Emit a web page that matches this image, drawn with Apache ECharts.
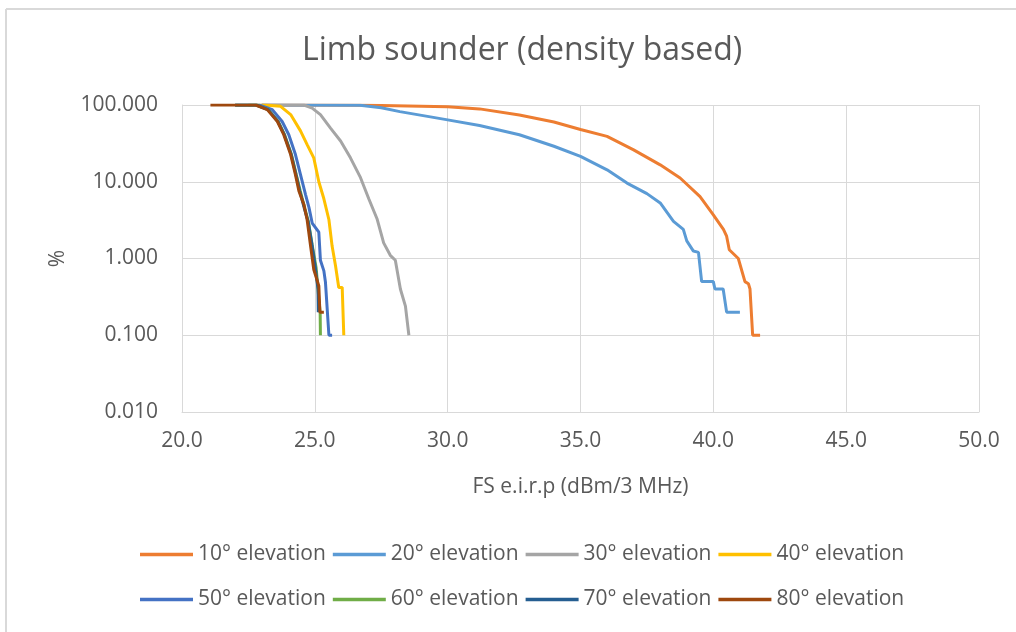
<!DOCTYPE html>
<html>
<head>
<meta charset="utf-8">
<script src="https://cdn.jsdelivr.net/npm/echarts@6/dist/echarts.min.js"></script>
<style>
html,body{margin:0;padding:0;background:#fff;}
#chart{width:1016px;height:632px;}
</style>
</head>
<body>
<div id="chart"></div>
<script>
// ---- data ----
const seriesNames = ['10° elevation','20° elevation','30° elevation','40° elevation','50° elevation','60° elevation','70° elevation','80° elevation'];
const seriesColors = ['#ED7D31','#5B9BD5','#A5A5A5','#FFC000','#4472C4','#70AD47','#255E91','#9E480E'];

const e10x = [23.0, 27.0, 28.5, 30.0, 31.2, 32.7, 34.0, 35.0, 36.0, 37.0, 38.0, 38.75, 39.5, 40.0, 40.38, 40.5, 40.6, 40.94, 41.19, 41.32, 41.38, 41.48, 41.76];
const e10y = [100, 99, 97, 95, 89, 74, 60, 48, 39, 26, 16.6, 11.2, 6.4, 3.7, 2.4, 1.95, 1.3, 1.0, 0.5, 0.47, 0.4, 0.1, 0.1];

const e20x = [23.0, 26.7, 27.5, 28.2, 29.35, 30.0, 31.2, 32.7, 34.0, 35.0, 36.0, 36.75, 37.5, 38.0, 38.5, 38.87, 39.0, 39.25, 39.44, 39.56, 40.0, 40.06, 40.37, 40.5, 41.0];
const e20y = [100, 99, 92, 82, 70, 64, 54, 41, 29, 21.4, 14.3, 9.6, 7.0, 5.3, 3.05, 2.4, 1.7, 1.25, 1.2, 0.5, 0.5, 0.4, 0.4, 0.2, 0.2];

const e30x = [23.0, 24.59, 24.9, 25.21, 25.59, 25.97, 26.34, 26.72, 27.03, 27.34, 27.59, 27.84, 28.03, 28.22, 28.41, 28.54];
const e30y = [100, 100, 91, 75, 50, 34, 20.5, 11.3, 6.0, 3.3, 1.6, 1.1, 0.95, 0.4, 0.24, 0.1];

const e40x = [22.5, 23.08, 23.71, 24.09, 24.46, 24.71, 24.96, 25.15, 25.34, 25.53, 25.65, 25.78, 25.9, 26.03, 26.09];
const e40y = [100, 100, 96, 75, 46, 30.5, 20.5, 10, 6.0, 3.2, 1.45, 0.8, 0.42, 0.42, 0.1];

const e50x = [22.0, 22.9, 23.4, 23.77, 24.02, 24.27, 24.46, 24.65, 24.78, 24.9, 25.15, 25.21, 25.34, 25.4, 25.53, 25.65];
const e50y = [100, 100, 87, 61, 41, 22.6, 12.4, 6.8, 4.6, 2.9, 2.2, 0.95, 0.69, 0.49, 0.1, 0.1];

const e60x = [22.0, 22.8, 23.25, 23.62, 23.86, 24.12, 24.3, 24.45, 24.63, 24.76, 24.9, 25.05, 25.15, 25.2, 25.21];
const e60y = [100, 100, 87, 61, 41, 22.6, 12.4, 7.6, 4.4, 3.0, 1.5, 0.75, 0.3, 0.2, 0.1];

const e70x = [22.0, 22.8, 23.24, 23.61, 23.85, 24.11, 24.29, 24.43, 24.62, 24.75, 24.9, 25.02, 25.12, 25.13];
const e70y = [100, 100, 87, 61, 41, 22.6, 12.4, 7.6, 4.3, 3.0, 1.45, 0.75, 0.4, 0.2];

const e80x = [21.07, 22.77, 23.21, 23.59, 23.83, 24.09, 24.27, 24.4, 24.59, 24.71, 24.84, 24.96, 25.15, 25.19, 25.34];
const e80y = [100, 100, 87, 61, 41, 22.6, 12.4, 7.6, 5.0, 3.2, 1.45, 0.72, 0.44, 0.2, 0.2];

const xTicks = [20, 25, 30, 35, 40, 45, 50];
const yTicks = [0.01, 0.1, 1, 10, 100];

const titleText = 'Limb sounder (density based)';
const xName = 'FS e.i.r.p (dBm/3 MHz)';
const yName = '%';

// ---- build ----
const xs = [e10x, e20x, e30x, e40x, e50x, e60x, e70x, e80x];
const ys = [e10y, e20y, e30y, e40y, e50y, e60y, e70y, e80y];
const FONT = 'Open Sans';
const TXT = '#595959';
const GRID = '#d9d9d9';

const series = seriesNames.map((n, i) => ({
  name: n,
  type: 'line',
  data: xs[i].map((x, k) => [x, ys[i][k]]),
  showSymbol: false,
  symbol: 'none',
  lineStyle: { width: 3, color: seriesColors[i] },
  itemStyle: { color: seriesColors[i] },
  animation: false
}));

const legendCommon = {
  orient: 'horizontal',
  icon: 'rect',
  itemWidth: 53,
  itemHeight: 3.5,
  itemGap: 7,
  padding: 0,
  textStyle: { fontFamily: FONT, fontSize: 21, color: TXT, padding: [0, 0, 0, 0] }
};

const chart = echarts.init(document.getElementById('chart'), null, { renderer: 'canvas' });
chart.setOption({
  animation: false,
  backgroundColor: '#fff',
  title: {
    text: titleText,
    left: 297,
    top: 30,
    textStyle: { fontFamily: FONT, fontSize: 32, fontWeight: 'normal', color: TXT }
  },
  grid: { left: 182, right: 37, top: 105, bottom: 220, containLabel: false },
  legend: [
    Object.assign({}, legendCommon, { data: seriesNames.slice(0, 4), left: 140, top: 544 }),
    Object.assign({}, legendCommon, { data: seriesNames.slice(4, 8), left: 140, top: 589 })
  ],
  xAxis: {
    type: 'value',
    min: xTicks[0],
    max: xTicks[xTicks.length - 1],
    interval: xTicks[1] - xTicks[0],
    name: xName,
    nameLocation: 'middle',
    nameGap: 65,
    nameTextStyle: { fontFamily: FONT, fontSize: 21, color: TXT },
    axisLine: { show: true, lineStyle: { color: GRID, width: 1 } },
    axisTick: { show: false },
    axisLabel: { fontFamily: FONT, fontSize: 21, color: TXT, margin: 19, formatter: v => v.toFixed(1) },
    splitLine: { show: true, lineStyle: { color: GRID, width: 1 } }
  },
  yAxis: {
    type: 'log',
    logBase: 10,
    min: yTicks[0],
    max: yTicks[yTicks.length - 1],
    name: yName,
    nameLocation: 'middle',
    nameGap: 113,
    nameRotate: 90,
    nameTextStyle: { fontFamily: FONT, fontSize: 21, color: TXT },
    axisLine: { show: true, lineStyle: { color: GRID, width: 1 } },
    axisTick: { show: false },
    axisLabel: { fontFamily: FONT, fontSize: 21, color: TXT, margin: 24, formatter: v => Number(v).toFixed(3) },
    splitLine: { show: true, lineStyle: { color: GRID, width: 1 } }
  },
  graphic: [
    { type: 'line', shape: { x1: 6, y1: 9, x2: 1016, y2: 9 }, style: { stroke: GRID, lineWidth: 2 }, silent: true },
    { type: 'line', shape: { x1: 6, y1: 9, x2: 6, y2: 632 }, style: { stroke: GRID, lineWidth: 2 }, silent: true }
  ],
  series: series
});
</script>
</body>
</html>
